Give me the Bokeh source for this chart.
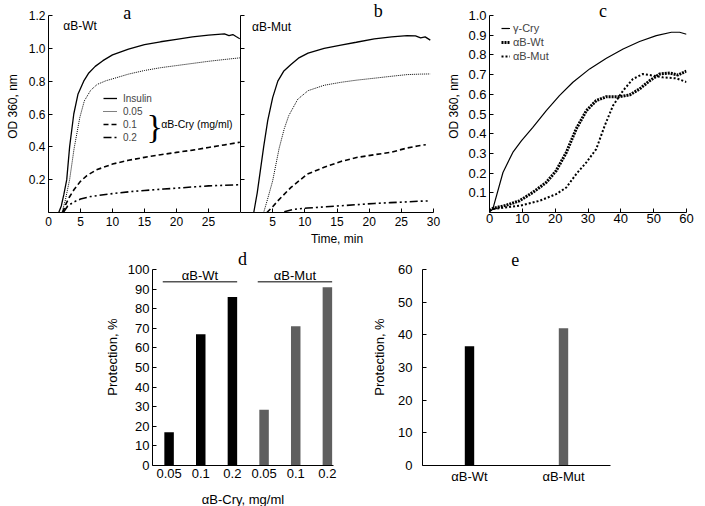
import numpy as np
from bokeh.plotting import figure
from bokeh.layouts import row, column
from bokeh.models import (Range1d, FixedTicker, PrintfTickFormatter, Label, Legend,
                          LegendItem, FactorRange, Spacer)
from bokeh.embed import file_html
from bokeh.resources import INLINE

SANS = "Liberation Sans"
SERIF = "Liberation Serif"

# ---------------- data ----------------
# panel a: αB-Wt, OD 360 vs time (min)
a_ins_t = [1.6, 2.0, 2.4, 2.85, 3.3, 3.95, 4.6, 5.5, 6.3, 7.3, 8.5, 10, 12.5, 15, 17.5, 20, 22.5, 25, 26.5, 27.5, 28.2, 28.8, 29.3, 29.9]
a_ins_y = [0.0, 0.04, 0.11, 0.2, 0.4, 0.6, 0.72, 0.8, 0.85, 0.89, 0.925, 0.96, 0.995, 1.022, 1.04, 1.055, 1.07, 1.08, 1.085, 1.088, 1.078, 1.084, 1.072, 1.058]
a_005_t = [2.1, 2.6, 3.3, 4.0, 4.9, 5.6, 6.6, 7.6, 9.0, 10, 12.5, 15, 17.5, 20, 22.5, 25, 27.5, 29.9]
a_005_y = [0.0, 0.07, 0.2, 0.39, 0.58, 0.68, 0.745, 0.78, 0.803, 0.814, 0.843, 0.865, 0.882, 0.895, 0.908, 0.921, 0.932, 0.942]
a_01_t = [2.2, 2.7, 3.2, 4.0, 5.0, 6.0, 7.5, 10, 12.5, 15, 17.5, 20, 22.5, 25, 27.5, 29.9]
a_01_y = [0.0, 0.05, 0.09, 0.14, 0.19, 0.225, 0.26, 0.295, 0.318, 0.336, 0.352, 0.366, 0.38, 0.396, 0.412, 0.428]
a_02_t = [2.3, 3.0, 4.0, 5.0, 6.6, 8.6, 10, 12.8, 15, 18, 20, 23, 25, 27.5, 29.9]
a_02_y = [0.0, 0.04, 0.065, 0.082, 0.097, 0.108, 0.115, 0.127, 0.134, 0.143, 0.148, 0.157, 0.162, 0.166, 0.169]

# panel b: αB-Mut
b_ins_t = [2.06, 2.6, 3.1, 3.6, 4.23, 5.0, 5.8, 6.7, 7.8, 9.0, 10.5, 13, 15.6, 18, 20.8, 23.5, 25.9, 27.2, 28.0, 28.7, 29.5]
b_ins_y = [0.0, 0.12, 0.26, 0.4, 0.56, 0.7, 0.8, 0.86, 0.9, 0.94, 0.971, 1.0, 1.02, 1.037, 1.057, 1.07, 1.078, 1.076, 1.064, 1.07, 1.05]
b_005_t = [3.6, 4.2, 5.0, 6.0, 6.8, 7.5, 8.9, 10.5, 13, 15.6, 18, 20.8, 23.5, 25.9, 28, 29.5]
b_005_y = [0.0, 0.08, 0.193, 0.39, 0.51, 0.59, 0.69, 0.742, 0.775, 0.793, 0.806, 0.818, 0.83, 0.84, 0.843, 0.844]
b_01_t = [4.1, 5.0, 5.8, 7.85, 10.4, 13, 15.6, 18.2, 20.8, 23.3, 25.9, 27.5, 28.8]
b_01_y = [0.0, 0.035, 0.071, 0.153, 0.234, 0.275, 0.311, 0.336, 0.352, 0.366, 0.393, 0.405, 0.413]
b_02_t = [6.8, 8.4, 10.4, 13, 15.6, 18.2, 20.8, 23.3, 25.9, 28, 29.5]
b_02_y = [0.005, 0.02, 0.027, 0.034, 0.041, 0.048, 0.055, 0.06, 0.065, 0.069, 0.071]

# panel c: γ-crystallin aggregation
c_gam_t = [0, 1.0, 4.1, 7.1, 9.7, 13.2, 17.3, 21.3, 25.4, 30.5, 35.6, 40.7, 45.7, 50.8, 55.4, 57.9, 60]
c_gam_y = [0.005, 0.017, 0.203, 0.305, 0.364, 0.432, 0.517, 0.593, 0.661, 0.729, 0.783, 0.83, 0.868, 0.898, 0.915, 0.915, 0.905]
c_wt_t = [0, 1, 5.1, 9.1, 13.2, 17.3, 20.3, 23.4, 26.4, 29.5, 32.5, 35.6, 39.6, 42.7, 45.7, 48.8, 51.8, 54.9, 57.4, 60]
c_wt_y = [0.01, 0.02, 0.037, 0.059, 0.102, 0.153, 0.212, 0.305, 0.424, 0.517, 0.568, 0.588, 0.588, 0.597, 0.627, 0.669, 0.703, 0.708, 0.698, 0.718]
c_mut_t = [0, 1, 9.1, 15.2, 20.3, 23.4, 26.4, 29.5, 32.5, 35.1, 37.6, 40.7, 43.7, 46.7, 49.8, 52.8, 56.9, 60]
c_mut_y = [0.01, 0.017, 0.034, 0.059, 0.093, 0.127, 0.195, 0.254, 0.322, 0.441, 0.542, 0.619, 0.678, 0.703, 0.695, 0.686, 0.681, 0.662]

# panel d: protection vs αB-Cry concentration
conc_labels = ["0.05", "0.1", "0.2", "0.05", "0.1", "0.2"]
group_d = ["αB-Wt", "αB-Wt", "αB-Wt", "αB-Mut", "αB-Mut", "αB-Mut"]
protection_d = [17, 67, 86, 28.5, 71, 91]

# panel e
groups_e = ["αB-Wt", "αB-Mut"]
protection_e = [36.5, 42]

group_colors = {"αB-Wt": "#000000", "αB-Mut": "#5f5f5f"}

TOP_H = 212      # frame height of top panels (frame reaches the top edge)
TOP_B = 35
OD_MAX_AB = 1.2
OD_MAX_C = 1.0
BOT_H = 217
BOT_B = 42
PROT_MAX_D = 100
PROT_MAX_E = 60


def mkfig(fw, fh, left, right, top, bottom, xr, yr):
    p = figure(frame_width=fw, frame_height=fh, min_border_left=left, min_border_right=right,
               min_border_top=top, min_border_bottom=bottom, x_range=xr, y_range=yr,
               output_backend="svg", toolbar_location=None)
    p.grid.visible = False
    p.outline_line_color = None
    p.background_fill_color = "white"
    p.border_fill_color = "white"
    return p


def style_axis(ax, size="12px", standoff=4, tick_in=4, label_size="12px", label_standoff=4):
    ax.axis_line_color = "black"
    ax.axis_line_width = 1
    ax.major_tick_in = tick_in
    ax.major_tick_out = 0
    ax.major_tick_line_color = "black" if tick_in else None
    ax.minor_tick_line_color = None
    ax.major_label_text_font = SANS
    ax.major_label_text_font_size = size
    ax.major_label_text_color = "black"
    ax.major_label_standoff = standoff
    ax.axis_label_text_font = SANS
    ax.axis_label_text_font_style = "normal"
    ax.axis_label_text_font_size = label_size
    ax.axis_label_text_color = "black"
    ax.axis_label_standoff = label_standoff


def letter(p, x, y, t):
    p.add_layout(Label(x=x, y=y, text=t, text_font=SERIF, text_font_size="18px",
                       text_align="center", text_baseline="middle", text_color="black"))


def txt(p, x, y, t, size="12px", align="left", baseline="middle", font=SANS):
    p.add_layout(Label(x=x, y=y, text=t, text_font=font, text_font_size=size,
                       text_align=align, text_baseline=baseline, text_color="black"))


# ---------------- panel a ----------------
pa = mkfig(192, TOP_H, 48, 0, 0, TOP_B, Range1d(0, 30), Range1d(0, OD_MAX_AB * TOP_H / 197))
style_axis(pa.xaxis[0], standoff=4)
style_axis(pa.yaxis[0], standoff=3, label_standoff=6)
pa.xaxis[0].ticker = FixedTicker(ticks=[0, 5, 10, 15, 20, 25])
pa.yaxis[0].ticker = FixedTicker(ticks=[0.2, 0.4, 0.6, 0.8, 1.0, 1.2])
pa.yaxis[0].formatter = PrintfTickFormatter(format="%.1f")
pa.yaxis[0].bounds = (0, OD_MAX_AB)
pa.yaxis[0].axis_label = "OD 360, nm"

ra1 = pa.line(a_ins_t, a_ins_y, line_color="black", line_width=1.3)
ra2 = pa.line(a_005_t, a_005_y, line_color="black", line_width=1, line_dash="1 1")
ra3 = pa.line(a_01_t, a_01_y, line_color="black", line_width=1.6, line_dash="5 3")
ra4 = pa.line(a_02_t, a_02_y, line_color="black", line_width=1.6, line_dash="8 3 2 3 2 3")
leg_a = Legend(items=[LegendItem(label="Insulin", renderers=[ra1]),
                      LegendItem(label="0.05", renderers=[ra2]),
                      LegendItem(label="0.1", renderers=[ra3]),
                      LegendItem(label="0.2", renderers=[ra4])],
               location=(55, 69), padding=0, margin=0, spacing=1, glyph_width=14,
               glyph_height=12, label_height=12, label_standoff=6, label_text_font=SANS,
               label_text_font_size="10px", border_line_color=None, background_fill_alpha=0)
pa.add_layout(leg_a)
txt(pa, 16.6, 0.525, "}", size="34px", align="center", font=SERIF)
txt(pa, 17.6, 0.542, "αB-Cry (mg/ml)", size="10.5px")
txt(pa, 2.3, 1.133, "αB-Wt", size="12px")
letter(pa, 12.3, 1.218, "a")

# ---------------- panel b ----------------
pb = mkfig(193, TOP_H, 0, 11, 0, TOP_B, Range1d(0, 30), Range1d(0, OD_MAX_AB * TOP_H / 197))
style_axis(pb.xaxis[0], standoff=4, label_standoff=3)
style_axis(pb.yaxis[0], standoff=0, label_standoff=0)
pb.xaxis[0].ticker = FixedTicker(ticks=[5, 10, 15, 20, 25, 30])
b_yticks = [0.2, 0.4, 0.6, 0.8, 1.0, 1.2]
pb.yaxis[0].ticker = FixedTicker(ticks=b_yticks)
pb.yaxis[0].major_label_overrides = {t: "" for t in b_yticks}
pb.yaxis[0].bounds = (0, OD_MAX_AB)
pb.xaxis[0].axis_label = "Time, min"
pb.line(b_ins_t, b_ins_y, line_color="black", line_width=1.3)
pb.line(b_005_t, b_005_y, line_color="black", line_width=1, line_dash="1 1")
pb.line(b_01_t, b_01_y, line_color="black", line_width=1.6, line_dash="5 3")
pb.line(b_02_t, b_02_y, line_color="black", line_width=1.6, line_dash="8 3 2 3 2 3")
txt(pb, 1.8, 1.13, "αB-Mut", size="12px")
letter(pb, 21.4, 1.227, "b")

# ---------------- panel c ----------------
pc = mkfig(197, TOP_H, 39, 25, 0, TOP_B, Range1d(0, 60), Range1d(0, OD_MAX_C * TOP_H / 197))
style_axis(pc.xaxis[0], size="13px", standoff=1)
style_axis(pc.yaxis[0], size="13px", standoff=3, label_standoff=4)
pc.xaxis[0].ticker = FixedTicker(ticks=[0, 10, 20, 30, 40, 50, 60])
pc.yaxis[0].ticker = FixedTicker(ticks=[0.1, 0.2, 0.3, 0.4, 0.5, 0.6, 0.7, 0.8, 0.9, 1.0])
pc.yaxis[0].formatter = PrintfTickFormatter(format="%.1f")
pc.yaxis[0].bounds = (0, OD_MAX_C)
pc.yaxis[0].axis_label = "OD 360, nm"
rc1 = pc.line(c_gam_t, c_gam_y, line_color="black", line_width=1.2)
rc2 = pc.line(c_wt_t, c_wt_y, line_color="black", line_width=3, line_dash="2 1")
rc3 = pc.line(c_mut_t, c_mut_y, line_color="black", line_width=2, line_dash="2 2")
leg_c = Legend(items=[LegendItem(label="γ-Cry", renderers=[rc1]),
                      LegendItem(label="αB-Wt", renderers=[rc2]),
                      LegendItem(label="αB-Mut", renderers=[rc3])],
               location=(12, 149), padding=0, margin=0, spacing=0, glyph_width=9,
               glyph_height=14, label_height=14, label_standoff=3, label_text_font=SANS,
               label_text_font_size="11px", border_line_color=None, background_fill_alpha=0)
pc.add_layout(leg_c)
letter(pc, 34.6, 1.023, "c")

# ---------------- panel d ----------------
xs = np.arange(len(conc_labels))
pd_ = mkfig(181, BOT_H, 52, 36, 0, BOT_B, Range1d(-0.524, 5.193),
            Range1d(0, PROT_MAX_D * BOT_H / 196))
style_axis(pd_.xaxis[0], size="13px", standoff=3, tick_in=0, label_size="13px", label_standoff=11)
style_axis(pd_.yaxis[0], size="13px", standoff=3, label_size="13px", label_standoff=5)
pd_.xaxis[0].ticker = FixedTicker(ticks=list(xs))
pd_.xaxis[0].major_label_overrides = {int(i): lab for i, lab in zip(xs, conc_labels)}
pd_.yaxis[0].ticker = FixedTicker(ticks=list(range(0, 101, 10)))
pd_.yaxis[0].bounds = (0, PROT_MAX_D)
pd_.xaxis[0].axis_label = "αB-Cry, mg/ml"
pd_.yaxis[0].axis_label = "Protection, %"
pd_.vbar(x=xs, top=protection_d, width=0.3,
         fill_color=[group_colors[g] for g in group_d], line_color=None)
for g in groups_e:
    idx = [int(i) for i in xs if group_d[i] == g]
    x0, x1 = min(idx) - 0.2, max(idx) + 0.15
    pd_.line([x0, x1], [93.7, 93.7], line_color="#555555", line_width=1.5)
    txt(pd_, (x0 + x1) / 2, 97.1, g, size="13px", align="center")
letter(pd_, 2.32, 105.3, "d")

# ---------------- panel e ----------------
pe = mkfig(188, BOT_H, 50, 98, 0, BOT_B, FactorRange(factors=groups_e, range_padding=0),
           Range1d(0, PROT_MAX_E * BOT_H / 196))
style_axis(pe.xaxis[0], size="13px", standoff=3, tick_in=0)
style_axis(pe.yaxis[0], size="13px", standoff=10, label_size="13px", label_standoff=8)
pe.yaxis[0].ticker = FixedTicker(ticks=list(range(0, 61, 10)))
pe.yaxis[0].bounds = (0, PROT_MAX_E)
pe.yaxis[0].axis_label = "Protection, %"
pe.vbar(x=groups_e, top=protection_e, width=0.1,
        fill_color=[group_colors[g] for g in groups_e], line_color=None)
letter(pe, 0.986, 63.2, "e")

layout = column(row(pa, pb, pc), row(Spacer(width=100, height=BOT_H + BOT_B), pd_, pe))

open("out.html", "w").write(file_html(layout, INLINE))
